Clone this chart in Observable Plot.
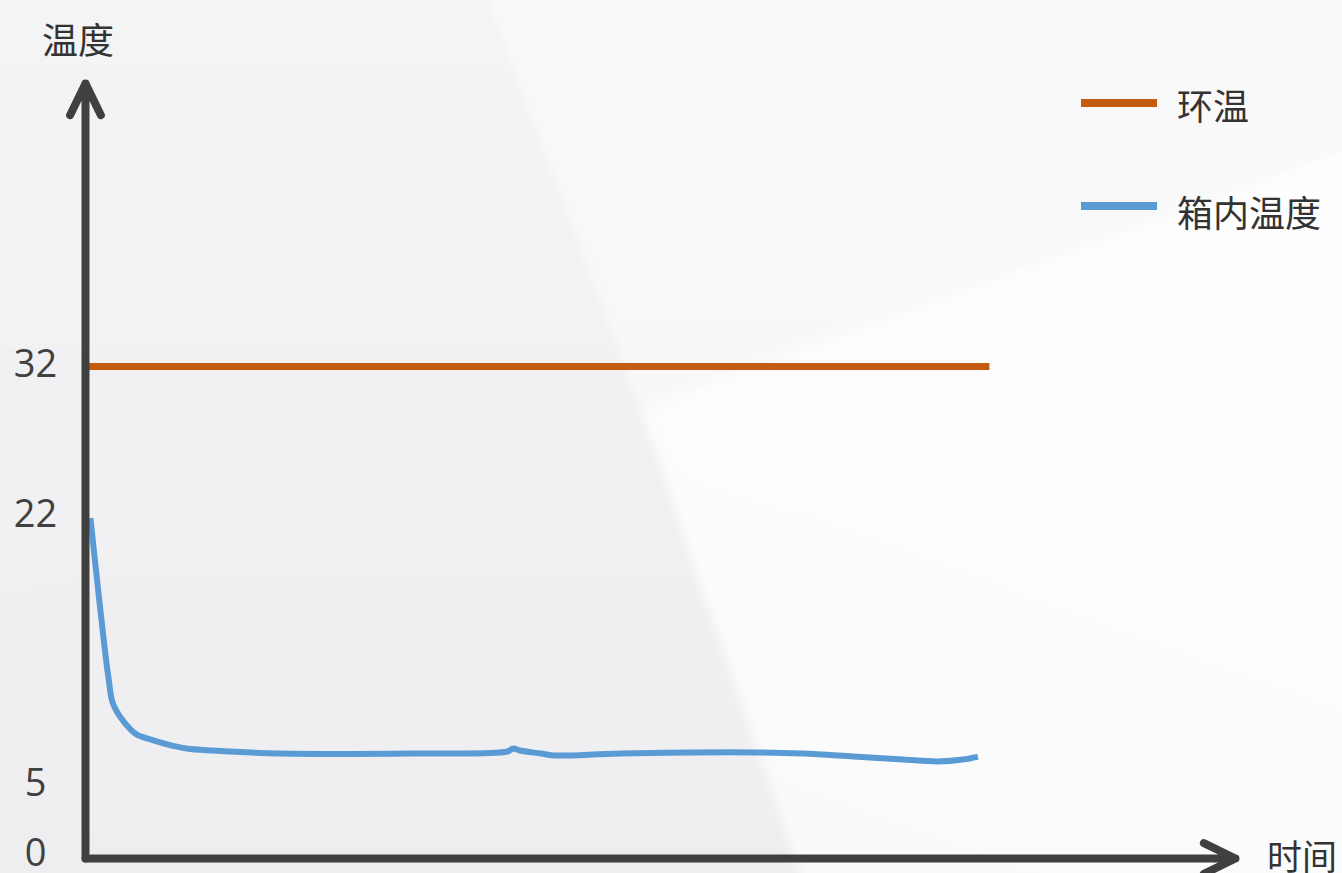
<!DOCTYPE html>
<html>
<head>
<meta charset="utf-8">
<script src="https://cdn.jsdelivr.net/npm/d3@7"></script>
<script src="https://cdn.jsdelivr.net/npm/@observablehq/plot@0.6"></script>
<style>
  html, body { margin: 0; padding: 0; background: #f0f0f2; }
  #wrap { position: relative; width: 1342px; height: 873px; overflow: hidden; background: #f0f0f2; }
  #bgs { position: absolute; left: -30px; top: -30px; width: 1402px; height: 933px; filter: blur(5px);
         background: linear-gradient(180deg, #f3f3f4 0%, #f0f0f2 45%, #eeeef0 100%); }
  .bg { position: absolute; left: 0; top: 0; width: 1402px; height: 933px; }
  #bg1 { background: linear-gradient(180deg, #f9f9fa 0%, #f7f7f8 100%);
         clip-path: polygon(507px 0, 1402px 0, 1402px 170px, 670px 438px); }
  #bg2 { background: linear-gradient(200deg, #fefefe 0%, #fcfcfc 60%, #f6f6f7 100%);
         clip-path: polygon(670px 438px, 1402px 170px, 1402px 933px, 840px 933px); }
  #bg3 { background: rgba(255,255,255,0.12);
         clip-path: polygon(0 0, 507px 0, 670px 438px, 0 630px); }
  #chart { position: absolute; left: 0; top: 0; }
  .lbl { position: absolute; font-family: "Noto Sans CJK SC", sans-serif; font-size: 36px;
         line-height: 36px; color: #333; white-space: nowrap; }
  .sw { position: absolute; height: 8px; width: 76px; }
</style>
</head>
<body>
<div id="wrap">
  <div id="bgs">
    <div class="bg" id="bg3"></div>
    <div class="bg" id="bg1"></div>
    <div class="bg" id="bg2"></div>
  </div>
  <div id="chart"></div>
  <div class="lbl" style="left:42px; top:20px;">温度</div>
  <div class="lbl" style="left:1267px; top:840px; font-size:35px; line-height:30px;">时间</div>
  <div class="sw" style="left:1081px; top:99px; background:#C55A11;"></div>
  <div class="lbl" style="left:1177px; top:86px;">环温</div>
  <div class="sw" style="left:1081px; top:202px; background:#5B9BD5;"></div>
  <div class="lbl" style="left:1177px; top:193px;">箱内温度</div>
</div>
<script>
// ---- data ----
const yTicks = [5, 22, 32];
const yOriginTick = [0];
const seriesNames = ["环温", "箱内温度"];
const ambientTime = [0.3, 78.6];
const ambientTemp = [32, 32];
const boxTime = [0.43, 1.2, 2.0, 2.43, 3.9, 4.5, 5.7, 7.1, 8.8, 11.1, 16.9, 28.5, 36.7, 37.2, 37.8, 39.6, 40.7, 46.5, 58.1, 62.4, 66.8, 71.1, 74.1, 76.3, 77.6];
const boxTemp = [21.9, 16.7, 11.8, 10.1, 8.55, 8.2, 7.9, 7.6, 7.34, 7.21, 7.02, 7.02, 7.15, 7.34, 7.21, 7.02, 6.9, 7.02, 7.09, 7.02, 6.83, 6.64, 6.52, 6.64, 6.83];
const xAxisMax = 100;
const yAxisMax = 51;

const ambient = ambientTime.map((t, i) => ({t, v: ambientTemp[i]}));
const box = boxTime.map((t, i) => ({t, v: boxTemp[i]}));
const axes = [
  {x1: 0, y1: 0, x2: 0, y2: yAxisMax},
  {x1: 0, y1: 0, x2: xAxisMax, y2: 0}
];
const tickStyle = {tickSize: 0, tickPadding: 50, textAnchor: "middle", fontSize: 38,
                   fontFamily: "Open Sans", label: null, tickFormat: d => String(d)};

const chart = Plot.plot({
  width: 1342,
  height: 873,
  marginLeft: 85,
  marginRight: 107,
  marginTop: 0,
  marginBottom: 0,
  style: {background: "transparent", color: "#404040", overflow: "visible"},
  x: {domain: [0, xAxisMax], axis: null},
  y: {type: "linear", domain: [0, 5, 22, 32, yAxisMax], range: [858, 785, 516, 366, 83], axis: null},
  marks: [
    Plot.line(ambient, {x: "t", y: "v", stroke: "#C55A11", strokeWidth: 7, strokeLinecap: "butt"}),
    Plot.line(box, {x: "t", y: "v", stroke: "#5B9BD5", strokeWidth: 6, curve: "catmull-rom", strokeLinecap: "butt"}),
    Plot.arrow(axes, {x1: "x1", y1: "y1", x2: "x2", y2: "y2", stroke: "#404040", strokeWidth: 8, headLength: 6.6, headAngle: 52}),
    Plot.axisY({ticks: yTicks, dy: -2, ...tickStyle}),
    Plot.axisY({ticks: yOriginTick, dy: -5, ...tickStyle})
  ]
});
document.getElementById("chart").appendChild(chart);
</script>
</body>
</html>
